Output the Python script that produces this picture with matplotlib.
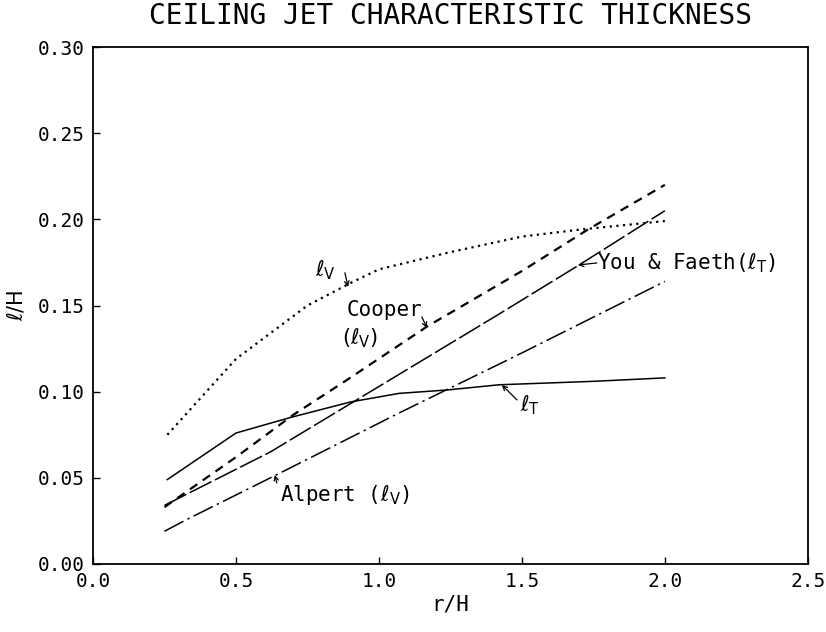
import numpy as np
import matplotlib.pyplot as plt

# Data (r/H vs l/H)
r_lv = [0.26, 0.50, 0.75, 0.90, 1.00, 1.25, 1.50, 1.70, 2.00]
lv_dotted = [0.075, 0.119, 0.150, 0.163, 0.171, 0.181, 0.190, 0.194, 0.199]

r_lt = [0.26, 0.50, 0.69, 0.90, 1.07, 1.24, 1.42, 1.75, 2.00]
lt_solid = [0.049, 0.076, 0.085, 0.094, 0.099, 0.101, 0.104, 0.106, 0.108]

r_cooper = [0.25, 0.50, 0.70, 0.89, 1.17, 1.50, 1.73, 2.00]
cooper = [0.033, 0.062, 0.0865, 0.107, 0.138, 0.170, 0.194, 0.220]

r_yf = [0.25, 0.62, 0.91, 1.04, 1.15, 1.40, 1.70, 2.00]
you_faeth = [0.034, 0.065, 0.094, 0.107, 0.118, 0.143, 0.1735, 0.205]

r_alpert = [0.25, 0.33, 0.64, 1.07, 1.47, 2.00]
alpert = [0.019, 0.026, 0.0516, 0.0876, 0.120, 0.164]

xticks = [0.0, 0.5, 1.0, 1.5, 2.0, 2.5]
yticks = [0.00, 0.05, 0.10, 0.15, 0.20, 0.25, 0.30]

mono = 'DejaVu Sans Mono'
fig = plt.figure(figsize=(8.26, 6.32), dpi=100)
ax = fig.add_axes([0.1126, 0.1076, 0.8654, 0.818])

ax.plot(r_lv, lv_dotted, color='black', linestyle=(0, (1, 2)), linewidth=1.6)
ax.plot(r_lt, lt_solid, color='black', linestyle='-', linewidth=1.1)
ax.plot(r_cooper, cooper, color='black', linestyle=(0, (4, 3)), linewidth=1.6)
ax.plot(r_yf, you_faeth, color='black', linestyle=(0, (16, 2.5)), linewidth=1.1)
ax.plot(r_alpert, alpert, color='black', linestyle=(0, (14, 3, 1.5, 3)), linewidth=1.1)

ax.set_xlim(0, 2.5)
ax.set_ylim(0, 0.30)
ax.set_xticks(xticks)
ax.set_yticks(yticks)
ax.set_xticklabels([f'{v:.1f}' for v in xticks], family=mono, fontsize=14)
ax.set_yticklabels([f'{v:.2f}' for v in yticks], family=mono, fontsize=14)
ax.tick_params(direction='in', length=5, width=1, pad=6)
for s in ax.spines.values():
    s.set_linewidth(1.3)

fig.text(0.545, 0.974, 'CEILING JET CHARACTERISTIC THICKNESS', fontsize=20,
         family=mono, ha='center', va='center')
ax.set_xlabel('r/H', fontsize=15, family=mono, labelpad=2)
ax.set_ylabel(r'$\ell$/H', fontsize=15, labelpad=8)

arrow = dict(arrowstyle='->', color='black', lw=0.9, shrinkA=0, shrinkB=0,
             mutation_scale=8)
ax.annotate('', xy=(0.892, 0.1608), xytext=(0.881, 0.169), arrowprops=arrow)
ax.text(0.776, 0.1706, r'$\ell_{\rm V}$', fontsize=15, va='center')
ax.annotate('', xy=(1.168, 0.137), xytext=(1.150, 0.1434), arrowprops=arrow)
ax.text(0.888, 0.1474, 'Cooper', fontsize=15, family=mono, va='center')
ax.text(0.871, 0.1312, r'$(\ell_{\rm V})$', fontsize=15, va='center')
ax.annotate('', xy=(1.696, 0.1735), xytext=(1.762, 0.1747), arrowprops=arrow)
ax.text(1.762, 0.1747, r'You & Faeth($\ell_{\rm T}$)', fontsize=15, family=mono,
        va='center')
ax.annotate('', xy=(1.430, 0.1039), xytext=(1.483, 0.0952), arrowprops=arrow)
ax.text(1.493, 0.0923, r'$\ell_{\rm T}$', fontsize=15, va='center')
ax.annotate('', xy=(0.636, 0.0517), xytext=(0.643, 0.047), arrowprops=arrow)
ax.text(0.654, 0.040, r'Alpert ($\ell_{\rm V}$)', fontsize=15, family=mono,
        va='center')

fig.savefig('out.png', dpi=100)
